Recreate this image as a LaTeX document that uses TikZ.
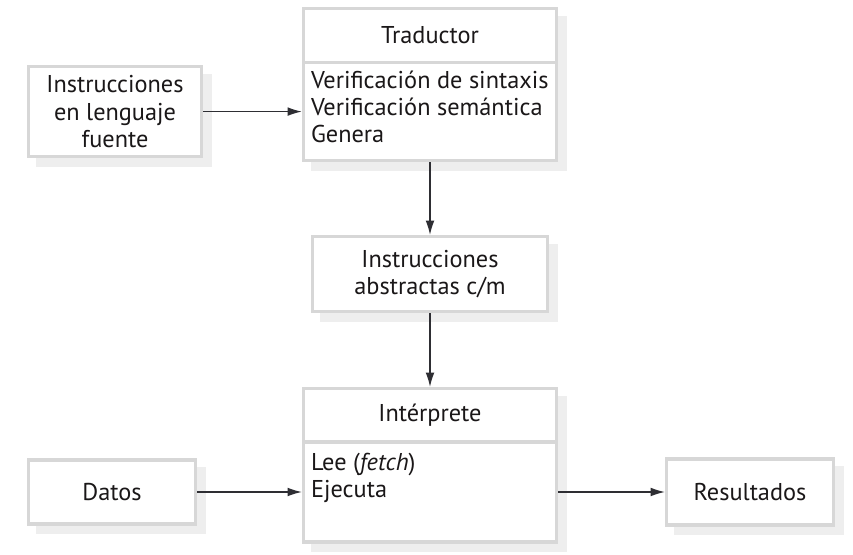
\documentclass[tikz,border=0pt]{standalone}
\usepackage{fontspec}
\setmainfont{PT Sans}
\usetikzlibrary{arrows.meta, backgrounds}
\definecolor{borde}{HTML}{D7D7D7}
\definecolor{sombra}{HTML}{EEEEEE}
\definecolor{tinta}{HTML}{1A1718}
\definecolor{linea}{HTML}{2E2E33}

\begin{document}
\begin{tikzpicture}[
  caja/.style={draw=borde, line width=2.2pt, fill=white, inner sep=0pt, align=center,
    text=tinta, font=\fontsize{17.3}{19.3}\selectfont},
  lista/.style={anchor=north west, inner sep=0pt, align=left, text=tinta,
    font=\fontsize{17.3}{19.3}\selectfont},
  flecha/.style={-{Latex[length=3.6mm, width=2.2mm]}, line width=1pt, draw=linea}]
  \useasboundingbox (0,0) rectangle (21.325,13.85);
  \node[caja, minimum width=4.325cm, minimum height=2.25cm] (fuente) at (2.875,11.06) {Instrucciones\\en lenguaje\\fuente};
  \node[caja, minimum width=6.325cm, minimum height=1.35cm] (trad)   at (10.75,12.96)  {Traductor};
  \node[caja, minimum width=6.325cm, minimum height=2.45cm] (tradc)  at (10.75,11.06)  {};
  \node[lista] (verif) at ([shift={(0.22,-0.24)}]tradc.north west) {Verificación de sintaxis\\Verificación semántica\\Genera};
  \node[caja, minimum width=5.875cm, minimum height=1.875cm] (abs)   at (10.75,7.0)    {Instrucciones\\abstractas c/m};
  \node[caja, minimum width=6.325cm, minimum height=1.3375cm] (interp) at (10.75,3.46875) {Intérprete};
  \node[caja, minimum width=6.325cm, minimum height=2.5cm] (interpc) at (10.75,1.55)   {};
  \node[lista] (lee) at ([shift={(0.22,-0.3)}]interpc.north west) {Lee (\textit{fetch})\\Ejecuta};
  \node[caja, minimum width=4.175cm, minimum height=1.6cm]  (datos)  at (2.8,1.55)     {Datos};
  \node[caja, minimum width=4.175cm, minimum height=1.65cm] (res)    at (18.75,1.55)   {Resultados};
  % sombras
  \begin{scope}[on background layer]
    \foreach \a/\b in {fuente/fuente, trad/tradc, abs/abs, interp/interpc, datos/datos, res/res}
      \fill[sombra] ([shift={(0.22,-0.22)}]\a.north west) rectangle ([shift={(0.22,-0.22)}]\b.south east);
  \end{scope}
  \draw[flecha] (fuente) -- (tradc);
  \draw[flecha] (tradc)  -- (abs);
  \draw[flecha] (abs)    -- (interp);
  \draw[flecha] (datos)  -- (interpc);
  \draw[flecha] (interpc) -- (res);
\end{tikzpicture}
\end{document}
